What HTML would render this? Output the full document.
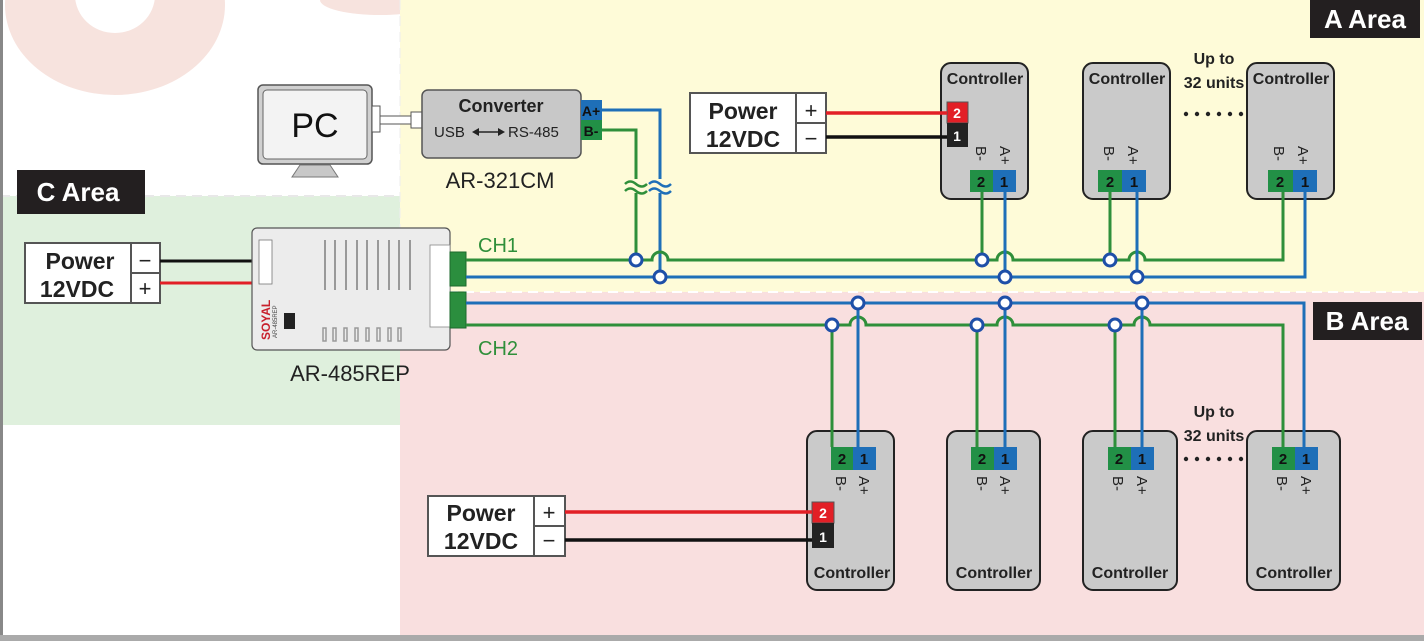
<!DOCTYPE html>
<html><head><meta charset="utf-8"><style>
html,body{margin:0;padding:0;background:#fff}
svg{display:block}
text{font-family:"Liberation Sans",Arial,sans-serif}
</style></head><body>
<svg width="1424" height="641" viewBox="0 0 1424 641" xmlns="http://www.w3.org/2000/svg">
<rect x="0" y="0" width="1424" height="641" fill="#fff"/>
<path d="M115 5 m-110 0 a110 90 0 1 0 220 0 a110 90 0 1 0 -220 0 M115 -5 m-40 0 a40 38 0 1 0 80 0 a40 38 0 1 0 -80 0" fill="#f7e3de" fill-rule="evenodd"/>
<ellipse cx="380" cy="0" rx="60" ry="15" fill="#f7e3de"/>
<rect x="400" y="0" width="1024" height="292" fill="#fefbd8"/>
<rect x="0" y="196" width="400" height="229" fill="#dff0dd"/>
<rect x="400" y="292" width="1024" height="343" fill="#f9dfdf"/>
<line x1="0" y1="196" x2="400" y2="196" stroke="#e8e8e8" stroke-width="2" stroke-dasharray="10 6"/>
<line x1="400" y1="292" x2="1424" y2="292" stroke="#fff" stroke-width="2" stroke-dasharray="10 6"/>
<line x1="400" y1="0" x2="400" y2="292" stroke="#eee" stroke-width="1" stroke-dasharray="10 6"/>
<rect x="0" y="0" width="3" height="641" fill="#888"/>
<rect x="0" y="635" width="1424" height="6" fill="#aaa"/>

<rect x="1310" y="0" width="110" height="38" fill="#231f20"/>
<text x="1365" y="28" fill="#fff" font-size="26" font-weight="bold" text-anchor="middle">A Area</text>
<rect x="1313" y="302" width="109" height="38" fill="#231f20"/>
<text x="1367" y="330" fill="#fff" font-size="26" font-weight="bold" text-anchor="middle">B Area</text>
<rect x="17" y="170" width="128" height="44" fill="#231f20"/>
<text x="78" y="201" fill="#fff" font-size="26" font-weight="bold" text-anchor="middle">C Area</text>

<rect x="258" y="85" width="114" height="79" rx="5" fill="#d0d0d0" stroke="#555" stroke-width="1.5"/>
<rect x="263" y="90" width="104" height="69" rx="4" fill="#f3f3f3" stroke="#666" stroke-width="1"/>
<text x="315" y="137" font-size="34" text-anchor="middle" fill="#111">PC</text>
<polygon points="300,165 330,165 338,177 292,177" fill="#c8c8c8" stroke="#777"/>
<rect x="372" y="106" width="8" height="26" fill="#fff" stroke="#555"/>
<rect x="380" y="116" width="32" height="8" fill="#fff" stroke="#555"/>
<rect x="411" y="112" width="11" height="16" fill="#fff" stroke="#555"/>

<rect x="422" y="90" width="159" height="68" rx="6" fill="#c8c8c8" stroke="#555" stroke-width="1.5"/>
<text x="501" y="112" font-size="18" font-weight="bold" text-anchor="middle" fill="#222">Converter</text>
<text x="434" y="137" font-size="15" fill="#222">USB</text>
<text x="508" y="137" font-size="15" fill="#222">RS-485</text>
<line x1="474" y1="132" x2="503" y2="132" stroke="#222" stroke-width="1.5"/>
<polygon points="472,132 479,128 479,136" fill="#222"/><polygon points="505,132 498,128 498,136" fill="#222"/>
<rect x="581" y="100" width="21" height="20" fill="#1e6fb8"/>
<rect x="581" y="120" width="21" height="20" fill="#229046"/>
<text x="591" y="116" font-size="14" font-weight="bold" text-anchor="middle" fill="#111">A+</text>
<text x="591" y="136" font-size="14" font-weight="bold" text-anchor="middle" fill="#111">B-</text>
<text x="500" y="188" font-size="22" text-anchor="middle" fill="#222">AR-321CM</text>

<rect x="690" y="93" width="136" height="60" fill="#fff" stroke="#555" stroke-width="2"/>
<line x1="796" y1="93" x2="796" y2="153" stroke="#555" stroke-width="2"/>
<line x1="796" y1="123" x2="826" y2="123" stroke="#555" stroke-width="2"/>
<text x="743" y="119" font-size="23" font-weight="bold" text-anchor="middle" fill="#222">Power</text>
<text x="743" y="147" font-size="23" font-weight="bold" text-anchor="middle" fill="#222">12VDC</text>
<text x="811" y="118" font-size="22" text-anchor="middle" fill="#222">+</text>
<text x="811" y="146" font-size="22" text-anchor="middle" fill="#222">−</text>

<rect x="428" y="496" width="137" height="60" fill="#fff" stroke="#555" stroke-width="2"/>
<line x1="534" y1="496" x2="534" y2="556" stroke="#555" stroke-width="2"/>
<line x1="534" y1="526" x2="565" y2="526" stroke="#555" stroke-width="2"/>
<text x="481" y="521" font-size="23" font-weight="bold" text-anchor="middle" fill="#222">Power</text>
<text x="481" y="549" font-size="23" font-weight="bold" text-anchor="middle" fill="#222">12VDC</text>
<text x="549" y="520" font-size="22" text-anchor="middle" fill="#222">+</text>
<text x="549" y="548" font-size="22" text-anchor="middle" fill="#222">−</text>

<rect x="25" y="243" width="135" height="60" fill="#fff" stroke="#555" stroke-width="2"/>
<line x1="131" y1="243" x2="131" y2="303" stroke="#555" stroke-width="2"/>
<line x1="131" y1="273" x2="160" y2="273" stroke="#555" stroke-width="2"/>
<text x="80" y="269" font-size="23" font-weight="bold" text-anchor="middle" fill="#222">Power</text>
<text x="77" y="297" font-size="23" font-weight="bold" text-anchor="middle" fill="#222">12VDC</text>
<text x="145" y="268" font-size="22" text-anchor="middle" fill="#222">−</text>
<text x="145" y="296" font-size="22" text-anchor="middle" fill="#222">+</text>
<line x1="160" y1="261" x2="253" y2="261" stroke="#111" stroke-width="3"/>
<line x1="160" y1="283" x2="253" y2="283" stroke="#e21f26" stroke-width="3"/>

<rect x="252" y="228" width="198" height="122" rx="5" fill="#ececec" stroke="#555" stroke-width="1.2"/>
<rect x="259" y="240" width="13" height="44" fill="#fff" stroke="#777" stroke-width="0.8"/>
<g stroke="#999" stroke-width="2">
<line x1="325" y1="240" x2="325" y2="290"/><line x1="335" y1="240" x2="335" y2="290"/><line x1="346" y1="240" x2="346" y2="290"/><line x1="357" y1="240" x2="357" y2="290"/><line x1="367" y1="240" x2="367" y2="290"/><line x1="378" y1="240" x2="378" y2="290"/><line x1="389" y1="240" x2="389" y2="290"/><line x1="399" y1="240" x2="399" y2="290"/><line x1="410" y1="240" x2="410" y2="290"/>
</g>
<g stroke="#999" stroke-width="1.5" fill="none">
<rect x="323" y="328" width="3" height="13"/><rect x="333" y="328" width="3" height="13"/><rect x="344" y="328" width="3" height="13"/><rect x="355" y="328" width="3" height="13"/><rect x="366" y="328" width="3" height="13"/><rect x="377" y="328" width="3" height="13"/><rect x="388" y="328" width="3" height="13"/><rect x="398" y="328" width="3" height="13"/>
</g>
<rect x="284" y="313" width="11" height="16" fill="#222"/>
<text transform="translate(270,340) rotate(-90)" font-size="12" font-weight="bold" fill="#c8202c">SOYAL</text>
<text transform="translate(277,338) rotate(-90)" font-size="6" fill="#444">AR-485REP</text>
<rect x="430" y="245" width="20" height="82" fill="#fff" stroke="#888" stroke-width="0.8"/>
<rect x="450" y="252" width="16" height="34" fill="#2b8e3e" stroke="#1c6a2c"/>
<rect x="450" y="292" width="16" height="36" fill="#2b8e3e" stroke="#1c6a2c"/>
<text x="350" y="381" font-size="22" text-anchor="middle" fill="#222">AR-485REP</text>
<text x="478" y="252" font-size="20" fill="#2f8f3a">CH1</text>
<text x="478" y="355" font-size="20" fill="#2f8f3a">CH2</text>

<g stroke="#222" stroke-width="2" fill="#cacaca">
<rect x="941" y="63" width="87" height="136" rx="10"/>
<rect x="1083" y="63" width="87" height="136" rx="10"/>
<rect x="1247" y="63" width="87" height="136" rx="10"/>
<rect x="807" y="431" width="87" height="159" rx="10"/>
<rect x="947" y="431" width="93" height="159" rx="10"/>
<rect x="1083" y="431" width="94" height="159" rx="10"/>
<rect x="1247" y="431" width="93" height="159" rx="10"/>
</g>
<g font-size="16" font-weight="bold" text-anchor="middle" fill="#222">
<text x="985" y="84">Controller</text><text x="1127" y="84">Controller</text><text x="1291" y="84">Controller</text>
<text x="852" y="578">Controller</text><text x="994" y="578">Controller</text><text x="1130" y="578">Controller</text><text x="1294" y="578">Controller</text>
<text x="1214" y="64">Up to</text><text x="1214" y="88">32 units</text>
<text x="1214" y="417">Up to</text><text x="1214" y="441">32 units</text>
</g>
<g fill="#222">
<circle cx="1186" cy="114" r="2.2"/><circle cx="1197" cy="114" r="2.2"/><circle cx="1208" cy="114" r="2.2"/><circle cx="1219" cy="114" r="2.2"/><circle cx="1230" cy="114" r="2.2"/><circle cx="1241" cy="114" r="2.2"/>
<circle cx="1186" cy="459" r="2.2"/><circle cx="1197" cy="459" r="2.2"/><circle cx="1208" cy="459" r="2.2"/><circle cx="1219" cy="459" r="2.2"/><circle cx="1230" cy="459" r="2.2"/><circle cx="1241" cy="459" r="2.2"/>
</g>

<rect x="947" y="102" width="21" height="21" fill="#e21f26" stroke="#555"/><text x="957" y="118" font-size="14" font-weight="bold" fill="#fff" text-anchor="middle">2</text>
<rect x="947" y="123" width="21" height="24" fill="#222"/><text x="957" y="141" font-size="14" font-weight="bold" fill="#fff" text-anchor="middle">1</text>
<rect x="812" y="502" width="22" height="21" fill="#e21f26" stroke="#555"/><text x="823" y="518" font-size="14" font-weight="bold" fill="#fff" text-anchor="middle">2</text>
<rect x="812" y="523" width="22" height="25" fill="#222"/><text x="823" y="542" font-size="14" font-weight="bold" fill="#fff" text-anchor="middle">1</text>
<line x1="826" y1="113" x2="947" y2="113" stroke="#e21f26" stroke-width="3.5"/>
<line x1="826" y1="137" x2="947" y2="137" stroke="#111" stroke-width="3.5"/>
<line x1="565" y1="512" x2="812" y2="512" stroke="#e21f26" stroke-width="3.5"/>
<line x1="565" y1="540" x2="812" y2="540" stroke="#111" stroke-width="3.5"/>

<g font-size="15" font-weight="bold" text-anchor="middle" fill="#111">
<rect x="970" y="170" width="23" height="22" fill="#229046"/><rect x="993" y="170" width="23" height="22" fill="#1e6fb8"/><text x="981" y="187">2</text><text x="1004" y="187">1</text>
<rect x="1098" y="170" width="24" height="22" fill="#229046"/><rect x="1122" y="170" width="24" height="22" fill="#1e6fb8"/><text x="1110" y="187">2</text><text x="1134" y="187">1</text>
<rect x="1268" y="170" width="25" height="22" fill="#229046"/><rect x="1293" y="170" width="24" height="22" fill="#1e6fb8"/><text x="1280" y="187">2</text><text x="1305" y="187">1</text>
<rect x="831" y="447" width="22" height="23" fill="#229046"/><rect x="853" y="447" width="23" height="23" fill="#1e6fb8"/><text x="842" y="464">2</text><text x="864" y="464">1</text>
<rect x="971" y="447" width="23" height="23" fill="#229046"/><rect x="994" y="447" width="23" height="23" fill="#1e6fb8"/><text x="982" y="464">2</text><text x="1005" y="464">1</text>
<rect x="1108" y="447" width="23" height="23" fill="#229046"/><rect x="1131" y="447" width="23" height="23" fill="#1e6fb8"/><text x="1119" y="464">2</text><text x="1142" y="464">1</text>
<rect x="1272" y="447" width="23" height="23" fill="#229046"/><rect x="1295" y="447" width="23" height="23" fill="#1e6fb8"/><text x="1283" y="464">2</text><text x="1306" y="464">1</text>
</g>
<g font-size="15" fill="#222">
<text transform="translate(976,146) rotate(90)">B-</text><text transform="translate(1000,146) rotate(90)">A+</text>
<text transform="translate(1104,146) rotate(90)">B-</text><text transform="translate(1128,146) rotate(90)">A+</text>
<text transform="translate(1274,146) rotate(90)">B-</text><text transform="translate(1298,146) rotate(90)">A+</text>
<text transform="translate(836,476) rotate(90)">B-</text><text transform="translate(859,476) rotate(90)">A+</text>
<text transform="translate(977,476) rotate(90)">B-</text><text transform="translate(1000,476) rotate(90)">A+</text>
<text transform="translate(1113,476) rotate(90)">B-</text><text transform="translate(1137,476) rotate(90)">A+</text>
<text transform="translate(1277,476) rotate(90)">B-</text><text transform="translate(1301,476) rotate(90)">A+</text>
</g>

<g fill="none" stroke-width="3">
<path d="M602 110 H660 V277" stroke="#1e6fb8"/>
<path d="M602 130 H636 V260" stroke="#2f8f3a"/>
<path d="M466 277 H1305 V192" stroke="#1e6fb8"/>
<path d="M466 260 H652 a8 8 0 0 1 16 0 H997 a8 8 0 0 1 16 0 H1129 a8 8 0 0 1 16 0 H1283 V192" stroke="#2f8f3a"/>
<path d="M982 192 V260 M1110 192 V260" stroke="#2f8f3a"/>
<path d="M1005 192 V277 M1137 192 V277" stroke="#1e6fb8"/>
<path d="M466 303 H1304 V447" stroke="#1e6fb8"/>
<path d="M466 325 H850 a8 8 0 0 1 16 0 H997 a8 8 0 0 1 16 0 H1134 a8 8 0 0 1 16 0 H1283 V447" stroke="#2f8f3a"/>
<path d="M832 325 V447 M977 325 V447 M1115 325 V447" stroke="#2f8f3a"/>
<path d="M858 303 V447 M1005 303 V447 M1142 303 V447" stroke="#1e6fb8"/>
</g>
<rect x="626" y="179" width="44" height="14" fill="#fefbd8"/>
<g fill="none" stroke-width="2.5">
<path d="M625 184 q5 -5 11 0 t11 0 M625 191 q5 -5 11 0 t11 0" stroke="#2f8f3a"/>
<path d="M649 184 q5 -5 11 0 t11 0 M649 191 q5 -5 11 0 t11 0" stroke="#1e6fb8"/>
</g>
<g fill="#fff" stroke="#1e4fa8" stroke-width="3">
<circle cx="636" cy="260" r="6"/><circle cx="660" cy="277" r="6"/>
<circle cx="982" cy="260" r="6"/><circle cx="1005" cy="277" r="6"/>
<circle cx="1110" cy="260" r="6"/><circle cx="1137" cy="277" r="6"/>
<circle cx="858" cy="303" r="6"/><circle cx="832" cy="325" r="6"/>
<circle cx="1005" cy="303" r="6"/><circle cx="977" cy="325" r="6"/>
<circle cx="1142" cy="303" r="6"/><circle cx="1115" cy="325" r="6"/>
</g>
</svg>
</body></html>
